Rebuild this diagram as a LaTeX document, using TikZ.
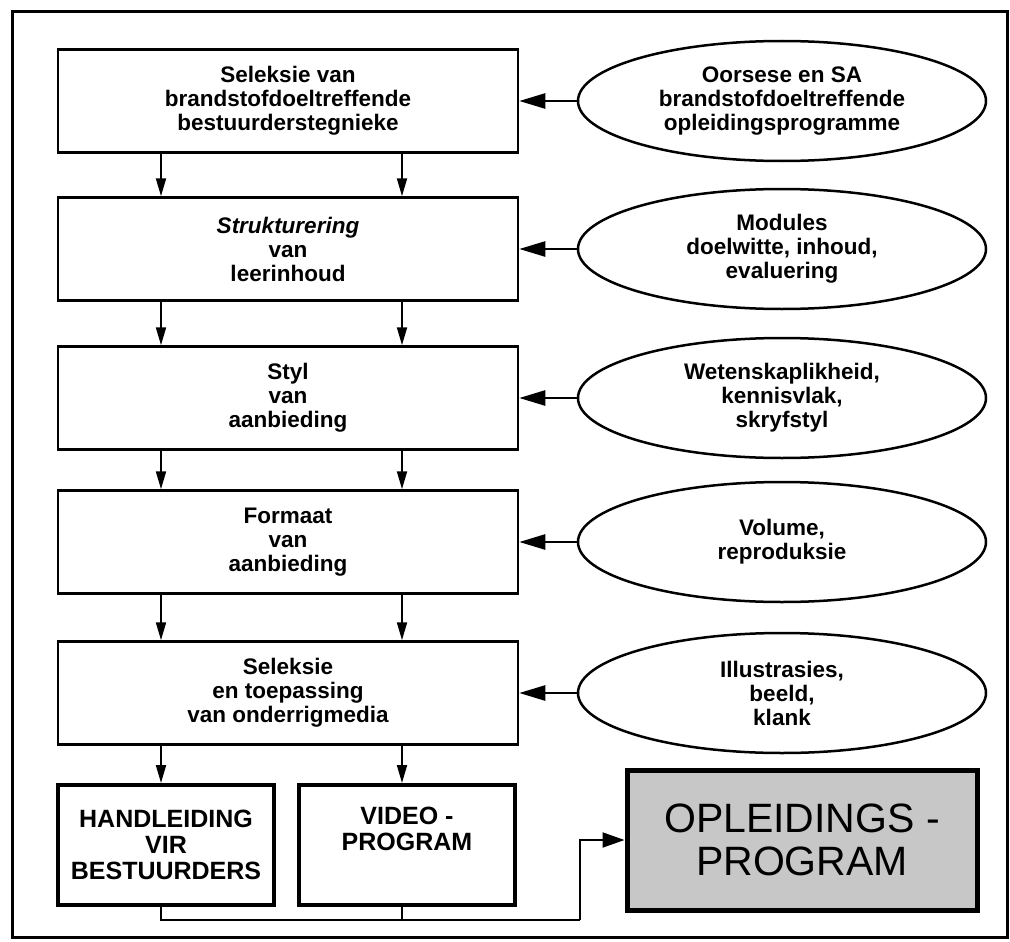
\documentclass[tikz,border=0pt]{standalone}
\usepackage{fontspec}
\setmainfont{Liberation Sans}
\usetikzlibrary{arrows.meta,shapes.geometric}
\tikzset{
  box/.style={draw,line width=2.5pt,minimum width=460pt,minimum height=103pt,align=center,font=\fontsize{22.5}{24}\selectfont\bfseries},
  oval/.style={draw,ellipse,line width=2.5pt,minimum width=408pt,minimum height=120pt,inner sep=0pt,align=center,font=\fontsize{22.5}{24}\selectfont\bfseries},
  outbox/.style={draw,line width=4pt,minimum width=216pt,minimum height=120pt,align=center,font=\fontsize{25}{26}\selectfont\bfseries},
  progbox/.style={draw,line width=5pt,fill=black!22,minimum width=350pt,minimum height=140pt,align=center,font=\fontsize{41}{43}\selectfont},
  arr/.style={line width=2pt,-{Triangle[length=18pt,width=10pt]}},
  bigarr/.style={line width=2.5pt,-{Triangle[length=26pt,width=15pt]}},
  line/.style={line width=2pt}
}
\begin{document}
\begin{tikzpicture}[x=1pt,y=-1pt]
\useasboundingbox (0,0) rectangle (1010,942);
\draw[line width=3pt] (12,12) rectangle (1007,937);
% left column
\node[box] (b1) at (288,101) {Seleksie van\\brandstofdoeltreffende\\bestuurderstegnieke};
\node[box] (b2) at (288,249) {\itshape Strukturering\\van\\leerinhoud};
\node[box] (b3) at (288,398) {Styl\\van\\aanbieding};
\node[box] (b4) at (288,542) {Formaat\\van\\aanbieding};
\node[box] (b5) at (288,693) {Seleksie\\en toepassing\\van onderrigmedia};
% right column
\node[oval] (e1) at (782,101) {Oorsese en SA\\brandstofdoeltreffende\\opleidingsprogramme};
\node[oval] (e2) at (782,249) {Modules\\doelwitte, inhoud,\\evaluering};
\node[oval] (e3) at (782,398) {Wetenskaplikheid,\\kennisvlak,\\skryfstyl};
\node[oval] (e4) at (782,542) {Volume,\\reproduksie};
\node[oval] (e5) at (782,693) {Illustrasies,\\beeld,\\klank};
% products
\node[outbox] (hand) at (166,845) {HANDLEIDING\\VIR\\BESTUURDERS};
\node[outbox] (video) at (407,845) {VIDEO -\\PROGRAM\\[6pt]};
\node[progbox] (prog) at (802,840) {OPLEIDINGS -\\PROGRAM};
\foreach \a/\b in {b1/b2,b2/b3,b3/b4,b4/b5} {
  \draw[arr] ([xshift=-127pt]\a.south) -- ([xshift=-127pt]\b.north);
  \draw[arr] ([xshift=114pt]\a.south) -- ([xshift=114pt]\b.north);
}
\draw[arr] ([xshift=-127pt]b5.south) -- ([xshift=-127pt]b5.south |- hand.north);
\draw[arr] ([xshift=114pt]b5.south) -- ([xshift=114pt]b5.south |- video.north);
\foreach \i in {1,...,5}
  \draw[bigarr] (e\i) -- (b\i);
\coordinate (bus) at (580,920);
\draw[line] ([xshift=-5pt]hand.south) |- (bus);
\draw[line] ([xshift=-5pt]video.south) -- ([xshift=-5pt]video.south |- bus);
\draw[line,-{Triangle[length=22pt,width=15pt]}] (bus) |- (prog.west);
\end{tikzpicture}
\end{document}
